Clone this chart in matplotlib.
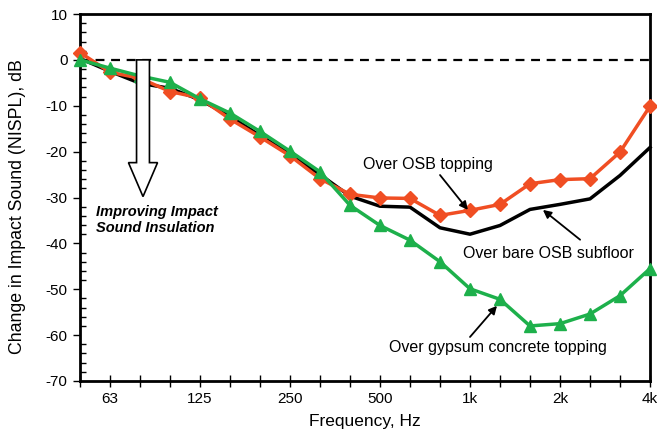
import matplotlib.pyplot as plt
from matplotlib.patches import FancyArrow

plt.rcParams['font.family'] = ['Liberation Sans', 'DejaVu Sans']
plt.rcParams['axes.unicode_minus'] = False

# 1/3 octave band centres, 50 Hz .. 4 kHz
freqs = [50, 63, 80, 100, 125, 160, 200, 250, 315, 400,
         500, 630, 800, 1000, 1250, 1600, 2000, 2500, 3150, 4000]
tick_freqs = [63, 125, 250, 500, 1000, 2000, 4000]
tick_labels = ['63', '125', '250', '500', '1k', '2k', '4k']

osb_topping = [1.6, -2.7, -4.0, -6.9, -8.3, -12.9, -16.8, -20.9, -25.9, -29.3,
               -30.1, -30.2, -33.9, -32.8, -31.5, -27.0, -26.1, -25.9, -20.1, -10.1]
bare_osb = [0.3, -2.5, -5.1, -6.2, -8.7, -12.3, -16.5, -20.5, -25.0, -29.7,
            -31.9, -32.1, -36.6, -38.0, -36.1, -32.6, -31.5, -30.3, -25.2, -19.1]
gypsum = [0.0, -1.8, -3.5, -4.9, -8.5, -11.6, -15.6, -19.9, -24.4, -31.7,
          -36.1, -39.3, -44.0, -49.9, -52.2, -58.0, -57.5, -55.4, -51.4, -45.5]

red = '#F04E23'
green = '#1DB04B'

fig = plt.figure(figsize=(6.57, 4.38), dpi=100)
ax = fig.add_axes([80 / 657, 57 / 438, 570 / 657, 367 / 438])

idx = list(range(len(freqs)))
ax.axhline(0, color='black', linestyle=(0, (4, 3)), linewidth=1.6, zorder=1)
ax.plot(idx, bare_osb, color='black', linewidth=2.5, zorder=2, clip_on=False)
ax.plot(idx, osb_topping, color=red, linewidth=2.5, marker='D', markersize=7.5,
        zorder=3, clip_on=False)
ax.plot(idx, gypsum, color=green, linewidth=2.5, marker='^', markersize=9,
        zorder=4, clip_on=False)

ax.set_xlim(0, len(freqs) - 1)
ax.set_ylim(-70, 10)
ax.set_xticks([freqs.index(f) for f in tick_freqs])
ax.set_xticklabels(tick_labels)
ax.set_xticks(idx, minor=True)
ax.set_yticks(range(-70, 11, 10))
ax.set_yticks(range(-70, 11, 2), minor=True)
ax.tick_params(axis='x', which='both', direction='inout', length=8, width=1,
               labelsize=11, pad=4)
ax.tick_params(axis='y', which='major', direction='out', length=5, width=1,
               labelsize=11, pad=4)
ax.tick_params(axis='y', which='minor', direction='in', length=4, width=1)
for s in ax.spines.values():
    s.set_linewidth(2)

ax.set_xlabel('Frequency, Hz', fontsize=12.5, labelpad=6)
ax.set_ylabel('Change in Impact Sound (NISPL), dB', fontsize=12.8)
ax.yaxis.set_label_coords(-0.094, 0.474)

# hollow arrow
ax.add_patch(FancyArrow(2.1, 0, 0, -29.8, width=0.43, head_width=0.97,
                        head_length=7.4, length_includes_head=True,
                        facecolor='white', edgecolor='black', linewidth=1.2,
                        zorder=5))
ax.text(0.55, -31.6, 'Improving Impact\nSound Insulation', fontsize=10.5,
        fontweight='bold', fontstyle='italic', va='top', ha='left',
        linespacing=1.2)

arrowprops = dict(arrowstyle='-|>', color='black', linewidth=1.3,
                  mutation_scale=12, shrinkA=0, shrinkB=0)
ax.annotate('', xy=(12.93, -32.7), xytext=(12.0, -25.1), arrowprops=arrowprops)
ax.annotate('', xy=(15.43, -32.7), xytext=(16.67, -39.2), arrowprops=arrowprops)
ax.annotate('', xy=(13.9, -53.6), xytext=(13.0, -60.4), arrowprops=arrowprops)

ax.text(11.6, -22.9, 'Over OSB topping', ha='center', va='center', fontsize=11.5)
ax.text(15.6, -42.1, 'Over bare OSB subfloor', ha='center', va='center',
        fontsize=11.5)
ax.text(13.92, -62.8, 'Over gypsum concrete topping', ha='center',
        va='center', fontsize=11.5)

fig.savefig('out.png', dpi=100)
